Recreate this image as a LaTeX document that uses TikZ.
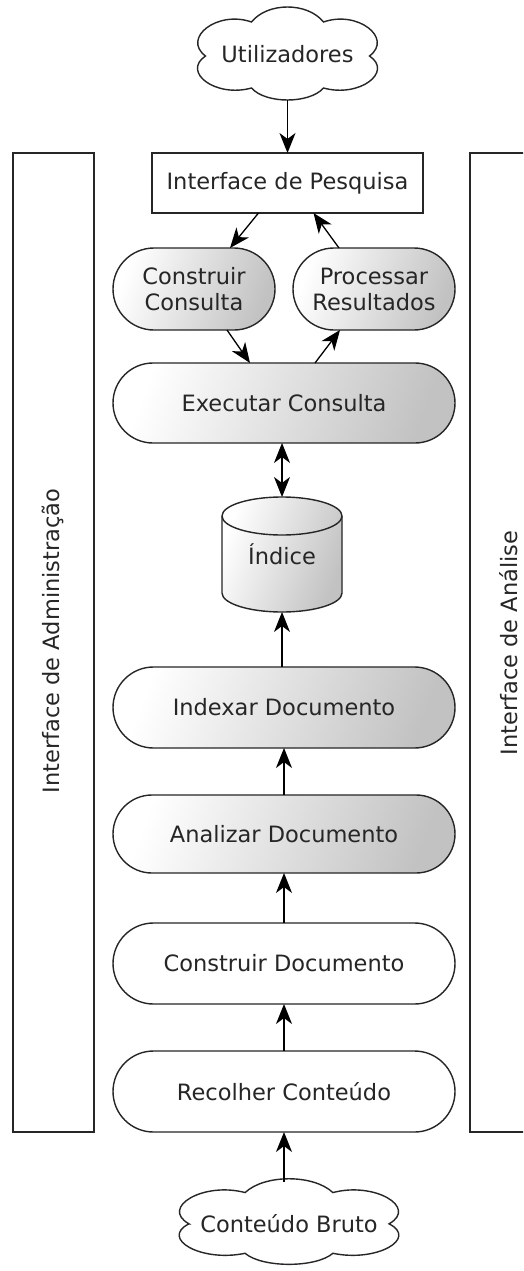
\documentclass[tikz,border=0pt]{standalone}
\usepackage{fontspec}
\setmainfont{DejaVu Sans}
\usetikzlibrary{shapes.misc,arrows.meta,calc}
\tikzset{
  txt/.style={font=\fontsize{22.5pt}{26pt}\selectfont, text=black!85},
  outline/.style={draw=black!85, line width=1.4pt},
  stadium/.style={rounded rectangle, outline, minimum width=342pt, minimum height=80pt, inner sep=0pt, outer sep=0pt, txt, align=center},
  smallstadium/.style={stadium, minimum width=162pt, minimum height=82pt},
  shadedfill/.style={left color=white, right color=black!24, shading angle=70},
  plainfill/.style={fill=white},
  tip/.tip={Stealth[length=20pt,width=16pt,inset=6pt]},
  arr/.style={line width=1.3pt, draw=black, -tip},
  dblarr/.style={line width=1.3pt, draw=black, tip-tip},
  cloudline/.style={draw=black!85, line width=1.4pt, fill=white},
  ghost/.style={inner sep=0pt, outer sep=0pt, txt}
}
\newcommand\mycloud[4]{%
  \draw[cloudline, shift={(#1,#2)}, xscale=#3, yscale=#4]
    (-82,2) .. controls (-106,-16) and (-70,-44) .. (-36,-32)
    .. controls (-20,-52) and (20,-52) .. (36,-32)
    .. controls (70,-44) and (106,-16) .. (82,2)
    .. controls (106,18) and (72,44) .. (36,34)
    .. controls (22,50) and (-22,50) .. (-36,34)
    .. controls (-72,44) and (-106,18) .. cycle;}
\begin{document}
\begin{tikzpicture}[x=1pt,y=-1pt]
\clip (0,0) rectangle (523,1271);
\fill[white] (0,0) rectangle (523,1271);

% side panels
\draw[outline] (13,153) rectangle (94,1132);
\draw[outline] (470,153) rectangle (560,1132);
\node[ghost, rotate=90] (adm) at (53,641) {Interface de Administração};
\node[ghost, rotate=90] (ana2) at (509,643) {Interface de Análise};

% clouds
\mycloud{287.5}{54}{1}{1}
\node[ghost, minimum width=180pt, minimum height=92pt] (usr) at (287.5,54) {Utilizadores};
\mycloud{289}{1222}{1.22}{0.92}
\node[ghost, minimum width=220pt, minimum height=85pt] (bruto) at (289,1224) {Conteúdo Bruto};

% search interface
\node[rectangle, outline, fill=white, minimum width=271pt, minimum height=60pt, inner sep=0pt, outer sep=0pt, txt] (pesq) at (287.5,183) {Interface de Pesquisa};

% query nodes
\node[smallstadium, shadedfill] (cc) at (194,289) {Construir\\Consulta};
\node[smallstadium, shadedfill] (pr) at (374,289) {Processar\\Resultados};
\node[stadium, shadedfill] (ex) at (284,403) {Executar Consulta};

% index cylinder
\shade[shadedfill] (222,516) -- (222,593) arc[start angle=180,end angle=0,x radius=60,y radius=19]
   -- (342,516) arc[start angle=0,end angle=-180,x radius=60,y radius=19] -- cycle;
\draw[outline] (222,516) -- (222,593) arc[start angle=180,end angle=0,x radius=60,y radius=19]
   -- (342,516) arc[start angle=0,end angle=-180,x radius=60,y radius=19] -- cycle;
\draw[outline] (222,516) arc[start angle=180,end angle=0,x radius=60,y radius=19];
\node[ghost, minimum width=120pt, minimum height=115pt] (idx) at (282,554.5) {Índice};

% indexing pipeline
\node[stadium, shadedfill, minimum height=81pt] (ind) at (284,707.5) {Indexar Documento};
\node[stadium, shadedfill, minimum height=78pt] (anl) at (284,834) {Analizar Documento};
\node[stadium, plainfill, minimum height=81pt] (cd) at (284,963.5) {Construir Documento};
\node[stadium, plainfill, minimum height=81pt] (rc) at (284,1091.5) {Recolher Conteúdo};

% connectors
\draw[arr] (usr.south) -- (pesq.north);
\draw[arr] ([xshift=-29pt]pesq.south) -- ([xshift=36pt]cc.north);
\draw[arr] ([xshift=-35pt]pr.north) -- ([xshift=26pt]pesq.south);
\draw[arr] ([xshift=33pt]cc.south) -- ([xshift=-34pt]ex.north);
\draw[arr] ([xshift=31pt]ex.north) -- ([xshift=-34pt]pr.south);
\draw[dblarr] (ex.south -| idx.north) -- (idx.north);
\draw[arr] (ind.north -| idx.south) -- (idx.south);
\draw[arr] (anl.north) -- (ind.south);
\draw[arr] (cd.north) -- (anl.south);
\draw[arr] (rc.north) -- (cd.south);
\draw[arr] (bruto.north -| rc.south) -- (rc.south);
\end{tikzpicture}
\end{document}
